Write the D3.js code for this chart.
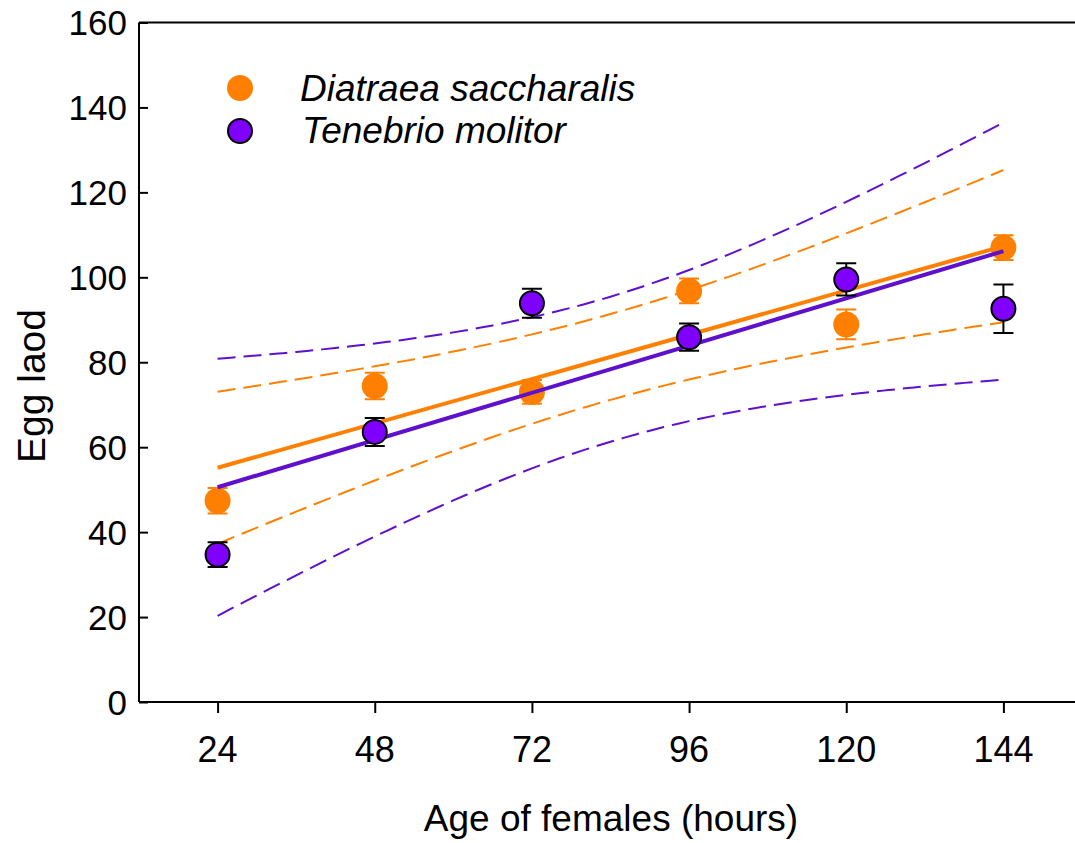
<!DOCTYPE html>
<html>
<head>
<meta charset="utf-8">
<script src="https://cdn.jsdelivr.net/npm/d3@7"></script>
<style>
  html, body { margin: 0; padding: 0; background: #fff; }
  svg { display: block; }
  text { font-family: "Liberation Sans", Arial, Helvetica, sans-serif; fill: #000; }
</style>
</head>
<body>
<svg id="chart" width="1075" height="843"></svg>
<script>
// ---- data ----
const hours = [24, 48, 72, 96, 120, 144];
const diatraeaMean = [47.4, 74.4, 73.0, 96.8, 88.9, 107.0];
const diatraeaErr  = [3.0, 3.1, 2.8, 2.9, 3.5, 2.9];
const tenebrioMean = [34.7, 63.6, 93.9, 85.9, 99.5, 92.6];
const tenebrioErr  = [2.9, 3.3, 3.4, 3.2, 3.8, 5.7];
const yTicks = [0, 20, 40, 60, 80, 100, 120, 140, 160];
const xTicks = [24, 48, 72, 96, 120, 144];
const seriesNames = ["Diatraea saccharalis", "Tenebrio molitor"];
const xTitle = "Age of females (hours)";
const yTitle = "Egg laod";

// ---- styles ----
const orange = "#FF8000";
const purpleFill = "#8000FF";
const purpleLine = "#5F10CC";

const svg = d3.select("#chart");
const x = d3.scaleLinear().domain([12, 156]).range([139, 1082]);
const y = d3.scaleLinear().domain([0, 160]).range([702, 22.5]);

// frame lines (top & bottom extend to right edge)
svg.append("line").attr("x1", 139).attr("x2", 1075).attr("y1", y(160)).attr("y2", y(160))
  .attr("stroke", "#000").attr("stroke-width", 2);

// y axis: ticks inward
const yAxis = svg.append("g").attr("transform", "translate(139,0)")
  .call(d3.axisRight(y).tickValues(yTicks).tickSize(9).tickFormat(""));
yAxis.select(".domain").attr("stroke-width", 2).attr("d", `M0,${y(0)}V${y(160)}`);
yAxis.selectAll(".tick line").attr("stroke-width", 2);
svg.append("g").selectAll("text").data(yTicks).join("text")
  .attr("x", 127).attr("y", d => y(d)).attr("dy", "0.36em")
  .attr("text-anchor", "end").attr("font-size", 35).text(d => d);

// x axis: ticks outward
const xAxis = svg.append("g").attr("transform", `translate(0,${y(0)})`)
  .call(d3.axisBottom(x).tickValues(xTicks).tickSize(11).tickFormat(""));
xAxis.select(".domain").attr("stroke-width", 2).attr("d", `M139,0H1075`);
xAxis.selectAll(".tick line").attr("stroke-width", 2);
svg.append("g").selectAll("text").data(xTicks).join("text")
  .attr("x", d => x(d)).attr("y", 762)
  .attr("text-anchor", "middle").attr("font-size", 36).text(d => d);

// titles
svg.append("text").attr("x", 611).attr("y", 831).attr("text-anchor", "middle")
  .attr("font-size", 37).text(xTitle);
svg.append("text").attr("transform", "translate(45,386) rotate(-90)")
  .attr("text-anchor", "middle").attr("font-size", 39).text(yTitle);

// ---- regression with 95% confidence band (fit of the plotted means) ----
function fit(xs, ys) {
  const n = xs.length;
  const mx = d3.mean(xs), my = d3.mean(ys);
  const sxx = d3.sum(xs, v => (v - mx) ** 2);
  const sxy = d3.sum(xs.map((v, i) => (v - mx) * (ys[i] - my)));
  const b = sxy / sxx, a = my - b * mx;
  const sse = d3.sum(xs.map((v, i) => (ys[i] - (a + b * v)) ** 2));
  const s = Math.sqrt(sse / (n - 2));
  const t = 2.776; // t(0.975, df = 4)
  const pred = v => a + b * v;
  const half = v => t * s * Math.sqrt(1 / n + (v - mx) ** 2 / sxx);
  return { pred, half };
}
const grid = d3.range(hours[0], hours[hours.length - 1] + 0.001, 2);
const line = d3.line().x(d => x(d[0])).y(d => y(d[1])).curve(d3.curveMonotoneX);

function drawFit(ys, color, dashColor) {
  const f = fit(hours, ys);
  const g = svg.append("g");
  g.append("path").attr("fill", "none").attr("stroke", dashColor).attr("stroke-width", 2)
    .attr("stroke-dasharray", "18,8")
    .attr("d", line(grid.map(v => [v, f.pred(v) + f.half(v)])));
  g.append("path").attr("fill", "none").attr("stroke", dashColor).attr("stroke-width", 2)
    .attr("stroke-dasharray", "18,8")
    .attr("d", line(grid.map(v => [v, f.pred(v) - f.half(v)])));
  g.append("path").attr("fill", "none").attr("stroke", color).attr("stroke-width", 4)
    .attr("d", line([hours[0], hours[hours.length - 1]].map(v => [v, f.pred(v)])));
}

function drawPoints(means, errs, fill, stroke, errColor, r) {
  const g = svg.append("g");
  const d = hours.map((h, i) => ({ h, m: means[i], e: errs[i] }));
  g.selectAll(".eb").data(d).join("path")
    .attr("fill", "none").attr("stroke", errColor).attr("stroke-width", 2)
    .attr("d", p => {
      const cx = x(p.h), y1 = y(p.m + p.e), y2 = y(p.m - p.e);
      return `M${cx - 10},${y1}H${cx + 10}M${cx},${y1}V${y2}M${cx - 10},${y2}H${cx + 10}`;
    });
  g.selectAll("circle").data(d).join("circle")
    .attr("cx", p => x(p.h)).attr("cy", p => y(p.m)).attr("r", r)
    .attr("fill", fill).attr("stroke", stroke).attr("stroke-width", stroke === "none" ? 0 : 2);
}

drawPoints(diatraeaMean, diatraeaErr, orange, "none", orange, 13);
drawFit(diatraeaMean, orange, orange);
drawFit(tenebrioMean, purpleLine, purpleLine);
drawPoints(tenebrioMean, tenebrioErr, purpleFill, "#000", "#000", 12);

// ---- legend ----
const leg = svg.append("g");
leg.append("circle").attr("cx", 240).attr("cy", 88).attr("r", 13).attr("fill", orange);
leg.append("circle").attr("cx", 240).attr("cy", 131).attr("r", 12)
  .attr("fill", purpleFill).attr("stroke", "#000").attr("stroke-width", 2);
leg.append("text").attr("x", 300).attr("y", 101).attr("font-size", 37)
  .attr("font-style", "italic").text(seriesNames[0]);
leg.append("text").attr("x", 302).attr("y", 143).attr("font-size", 37)
  .attr("font-style", "italic").text(seriesNames[1]);
</script>
</body>
</html>
